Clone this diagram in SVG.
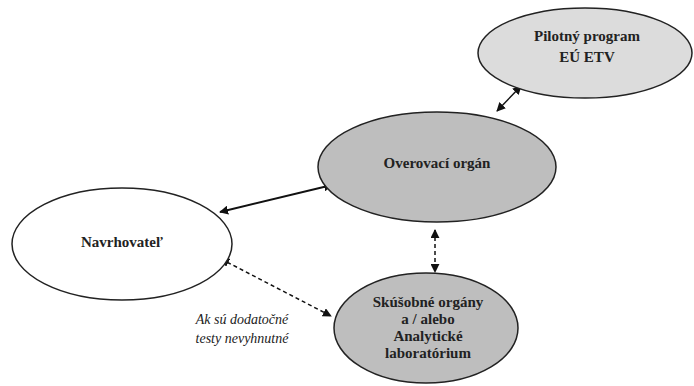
<svg xmlns="http://www.w3.org/2000/svg" width="694" height="386" viewBox="0 0 694 386">
<defs>
<marker id="ah" viewBox="0 0 10 10" refX="9" refY="5" markerWidth="9" markerHeight="9" markerUnits="userSpaceOnUse" orient="auto-start-reverse">
<path d="M0,0 L10,5 L0,10 z" fill="#111"/>
</marker>
<style>
.node{stroke:#222;stroke-width:1.5}
.lbl{font-weight:bold;font-size:15px;fill:#222;text-anchor:middle}
.note{font-style:italic;font-size:14px;fill:#222;text-anchor:middle}
.conn{stroke:#111;fill:none}
</style>
</defs>
<rect width="694" height="386" fill="#fff"/>
<g id="connectors">
<line class="conn" x1="497" y1="111" x2="521" y2="86" stroke-width="1.5" marker-start="url(#ah)" marker-end="url(#ah)"/>
<line class="conn" x1="332" y1="185" x2="220" y2="212" stroke-width="2" marker-start="url(#ah)" marker-end="url(#ah)"/>
<line class="conn" x1="435" y1="230" x2="435" y2="272" stroke-width="1.5" stroke-dasharray="4,3" marker-start="url(#ah)" marker-end="url(#ah)"/>
<line class="conn" x1="221" y1="259" x2="331" y2="316" stroke-width="1.5" stroke-dasharray="4,3" marker-start="url(#ah)" marker-end="url(#ah)"/>
</g>
<g font-family="Liberation Serif, Times New Roman, serif">
<g id="pilotny">
<ellipse class="node" cx="585" cy="53" rx="107" ry="45" fill="#dcdcdc"/>
<text class="lbl" x="587" y="41">Pilotný program</text>
<text class="lbl" x="587" y="62">EÚ ETV</text>
</g>
<g id="overovaci">
<ellipse class="node" cx="437" cy="167" rx="119" ry="55" fill="#bebebe"/>
<text class="lbl" x="437" y="168">Overovací orgán</text>
</g>
<g id="navrhovatel">
<ellipse class="node" cx="122" cy="244" rx="110" ry="56" fill="#fff"/>
<text class="lbl" x="122" y="247">Navrhovateľ</text>
</g>
<g id="skusobne">
<ellipse class="node" cx="426" cy="328" rx="92" ry="55" fill="#bebebe"/>
<text class="lbl" x="428" y="307">Skúšobné orgány</text>
<text class="lbl" x="428" y="324">a / alebo</text>
<text class="lbl" x="428" y="341">Analytické</text>
<text class="lbl" x="428" y="358">laboratórium</text>
</g>
<g id="note">
<text class="note" x="242" y="324">Ak sú dodatočné</text>
<text class="note" x="242" y="343">testy nevyhnutné</text>
</g>
</g>
</svg>
